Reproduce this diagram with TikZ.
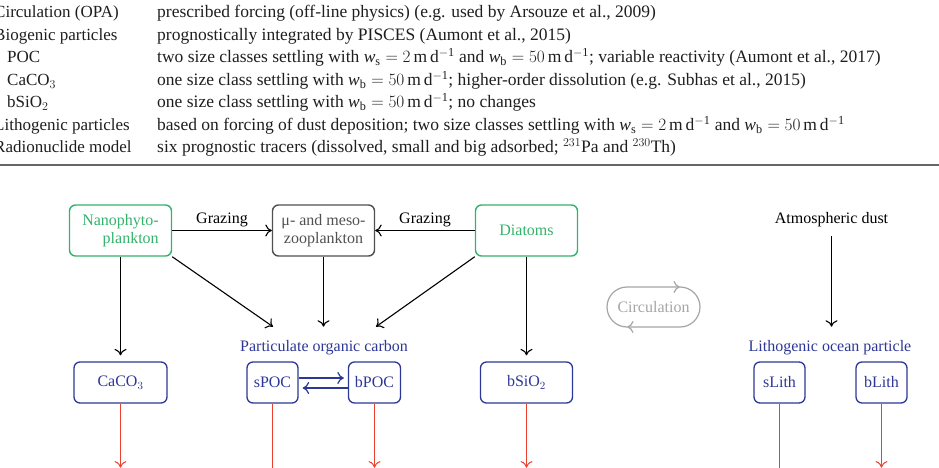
\documentclass[tikz,border=0pt]{standalone}
\usepackage{fontspec}
\setmainfont{Liberation Serif}
\usepackage{xcolor}
\usetikzlibrary{arrows.meta,positioning,calc}

\definecolor{phyto}{RGB}{52,178,108}
\definecolor{partic}{RGB}{45,55,150}
\definecolor{sinkred}{RGB}{235,65,45}
\definecolor{zoogray}{RGB}{80,80,80}
\definecolor{circgray}{RGB}{165,165,165}
\definecolor{tabtext}{RGB}{30,30,30}
\newcommand{\wset}[1]{\mathit{w}_\mathrm{#1}}
\newcommand{\mday}{\mathrm{m\,d^{-1}}}

\begin{document}
\begin{tikzpicture}[
    x=1pt, y=-1pt,
    >={To[length=6.5pt, width=12pt]},
    tabcell/.style={anchor=base west, inner sep=0pt, text=tabtext, font=\fontsize{17.5}{20}\selectfont},
    tabhead/.style={anchor=base west, inner sep=0pt, text=tabtext, font=\fontsize{17}{20}\selectfont},
    orgbox/.style={rectangle, draw=#1, text=#1, minimum width=102pt, minimum height=51pt, align=right, rounded corners=6pt, line width=1.4pt, inner sep=2pt, font=\fontsize{16}{18.5}\selectfont},
    partbox/.style={rectangle, draw=partic, text=partic, minimum width=#1, minimum height=41pt, rounded corners=6pt, line width=1.3pt, font=\fontsize{16}{18}\selectfont},
    grplbl/.style={anchor=base, text=partic, inner ysep=13pt, font=\fontsize{16}{18}\selectfont},
    plainlbl/.style={anchor=base, font=\fontsize{16}{18}\selectfont},
    flow/.style={->, line width=1.1pt, black},
    sink/.style={->, line width=1pt, sinkred},
    circflow/.style={->, line width=1.2pt, circgray}
]
\useasboundingbox (0,0) rectangle (939,468);
\clip (0,0) rectangle (939,468);

% Table rows
\node[tabhead] (r1a) at (-6,18) {Circulation (OPA)};
\node[tabcell] (r1b) at (157,18) {prescribed forcing (off-line physics) (e.g. used by Arsouze et al., 2009)};
\node[tabhead] (r2a) at (-6,40.5) {Biogenic particles};
\node[tabcell] (r2b) at (157,40.5) {prognostically integrated by PISCES (Aumont et al., 2015)};
\node[tabhead] (r3a) at (7,63) {POC};
\node[tabcell] (r3b) at (157,63) {two size classes settling with $\wset{s}=2\,\mday$ and $\wset{b}=50\,\mday$; variable reactivity (Aumont et al., 2017)};
\node[tabhead] (r4a) at (7,85.5) {CaCO$_3$};
\node[tabcell] (r4b) at (157,85.5) {one size class settling with $\wset{b}=50\,\mday$; higher-order dissolution (e.g. Subhas et al., 2015)};
\node[tabhead] (r5a) at (7,108) {bSiO$_2$};
\node[tabcell] (r5b) at (157,108) {one size class settling with $\wset{b}=50\,\mday$; no changes};
\node[tabhead] (r6a) at (-6,130.5) {Lithogenic particles};
\node[tabcell] (r6b) at (157,130.5) {based on forcing of dust deposition; two size classes settling with $\wset{s}=2\,\mday$ and $\wset{b}=50\,\mday$};
\node[tabhead] (r7a) at (-6,153) {Radionuclide model};
\node[tabcell] (r7b) at (157,153) {six prognostic tracers (dissolved, small and big adsorbed; $^{231}$Pa and $^{230}$Th)};
\draw[line width=1.6pt, black!60] (0,165) -- (939,165);

% Plankton
\node[orgbox=phyto] (nano) at (120.5,230.5) {Nanophyto-\\plankton};
\node[orgbox=zoogray, align=center] (zoo) at (323.5,230.5) {μ- and meso-\\zooplankton};
\node[orgbox=phyto] (diat) at (526.5,230.5) {Diatoms};
\draw[flow] (nano) -- node[midway, above, font=\fontsize{16}{18}\selectfont] (graz1) {Grazing} (zoo);
\draw[flow] (diat) -- node[midway, above, font=\fontsize{16}{18}\selectfont] (graz2) {Grazing} (zoo);

% Particles
\node[grplbl] (poc) at (324,351) {Particulate organic carbon};
\node[partbox=93pt] (caco) at (120.5,382.5) {CaCO$_3$};
\node[partbox=51pt] (spoc) at (272.5,382.5) {sPOC};
\node[partbox=52pt] (bpoc) at (374.5,382.5) {bPOC};
\node[partbox=92pt] (bsio) at (526.5,382.5) {bSiO$_2$};
\node[grplbl] (lith) at (830,351) {Lithogenic ocean particle};
\node[partbox=51pt] (slith) at (779.5,382.5) {sLith};
\node[partbox=51pt] (blith) at (881.5,382.5) {bLith};
\node[plainlbl] (dust) at (831.5,223) {Atmospheric dust};

\draw[flow, shorten >=6pt] (nano) -- (caco);
\draw[flow, shorten >=6pt] (diat) -- (bsio);
\draw[flow] (zoo) -- (zoo |- poc.north);
\draw[flow] (nano.south east) -- ([xshift=-51pt]poc.north);
\draw[flow] (diat.south west) -- ([xshift=52pt]poc.north);
\draw[flow, shorten <=6pt] (dust.south) -- (dust.south |- lith.north);
\draw[->, line width=1.2pt, partic, shorten >=4pt] ([yshift=4.5pt]spoc.east) -- ([yshift=4.5pt]bpoc.west);
\draw[->, line width=1.2pt, partic, shorten >=4pt] ([yshift=-5.5pt]bpoc.west) -- ([yshift=-5.5pt]spoc.east);

% Sinking
\draw[sink] (caco.south) -- ++(0,64);
\draw[sink] (spoc.south) -- ++(0,90);
\draw[sink] (bpoc.south) -- ++(0,64);
\draw[sink] (bsio.south) -- ++(0,64);
\draw[sink] (slith.south) -- ++(0,90);
\draw[sink] (blith.south) -- ++(0,64);

% Circulation
\node[text=circgray, font=\fontsize{16}{18}\selectfont] (circ) at (653.5,307) {Circulation};
\draw[circflow] ([xshift=-26.5pt,yshift=-20pt]circ.center) arc[start angle=270, end angle=90, radius=20pt] -- ++(53,0);
\draw[circflow] ([xshift=26.5pt,yshift=20pt]circ.center) arc[start angle=90, end angle=-90, radius=20pt] -- ++(-53,0);
\end{tikzpicture}
\end{document}
